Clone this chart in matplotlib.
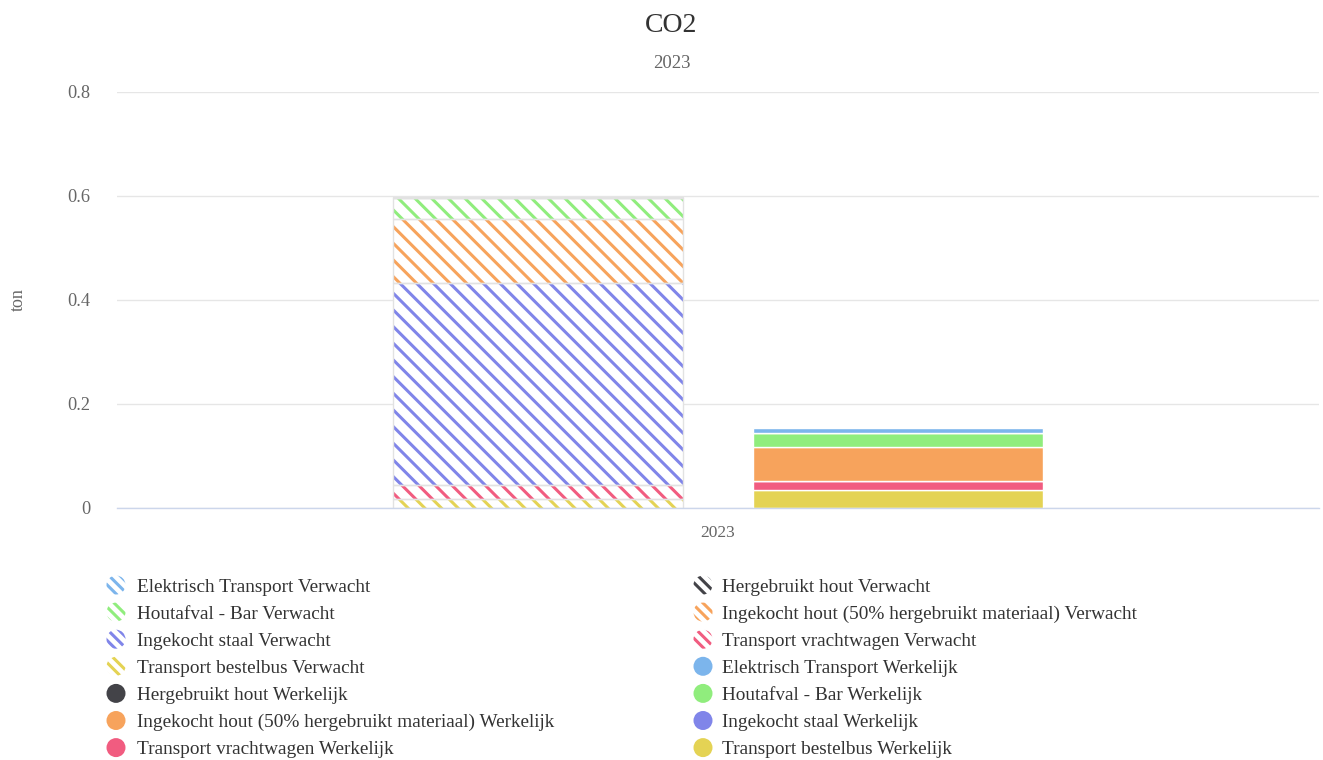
import matplotlib
matplotlib.use('Agg')
import matplotlib.pyplot as plt
from matplotlib.patches import Circle
from matplotlib.transforms import IdentityTransform
import numpy as np

# ---- data ----
categories = ['2023']
series_names = ['Elektrisch Transport', 'Hergebruikt hout', 'Houtafval - Bar',
                'Ingekocht hout (50% hergebruikt materiaal)', 'Ingekocht staal',
                'Transport vrachtwagen', 'Transport bestelbus']
colors = ['#7cb5ec', '#434348', '#90ed7d', '#f7a35c', '#8085e9', '#f15c80', '#e4d354']
verwacht = [0.002, 0.0, 0.040, 0.123, 0.388, 0.028, 0.017]
werkelijk = [0.009, 0.0, 0.027, 0.066, 0.0, 0.017, 0.035]
y_ticks = [0, 0.2, 0.4, 0.6, 0.8]
y_tick_labels = ['0', '0.2', '0.4', '0.6', '0.8']
title = 'CO2'
subtitle = '2023'
y_label = 'ton'

plt.rcParams['font.family'] = ['Liberation Serif', 'DejaVu Serif']
plt.rcParams['hatch.linewidth'] = 2.2

W, H = 1323, 760
fig = plt.figure(figsize=(W / 100, H / 100), dpi=100)
fig.patch.set_facecolor('white')
ax = fig.add_axes([117 / W, 1 - 508 / H, (1319 - 117) / W, (508 - 92) / H])

x = np.arange(len(categories))
off = 0.15
width = 0.241

# Verwacht stack (hatched); stacked so first series is on top
bottom = np.zeros(len(categories))
for name, c, v in reversed(list(zip(series_names, colors, verwacht))):
    ax.bar(x - off, v, width, bottom=bottom, facecolor='white', edgecolor=c,
           linewidth=0, hatch='\\\\', zorder=2)
    ax.bar(x - off, v, width, bottom=bottom, fill=False, edgecolor='#e2e2e2',
           linewidth=1, zorder=3)
    bottom = bottom + np.array([v])

# Werkelijk stack (solid)
bottom = np.zeros(len(categories))
for name, c, v in reversed(list(zip(series_names, colors, werkelijk))):
    ax.bar(x + off, v, width, bottom=bottom, color=c, edgecolor='white',
           linewidth=1, zorder=2)
    bottom = bottom + np.array([v])

ax.set_xlim(-0.5, 0.5)
ax.set_ylim(0, 0.8)
ax.set_yticks(y_ticks)
ax.set_yticklabels(y_tick_labels)
ax.set_xticks(x)
ax.set_xticklabels(categories)
ax.tick_params(axis='y', length=0, pad=19, labelsize=13.2, labelcolor='#666666')
ax.tick_params(axis='x', length=0, pad=12, labelsize=12.5, labelcolor='#666666')
for s in ['top', 'right', 'left']:
    ax.spines[s].set_visible(False)
ax.spines['bottom'].set_color('#ccd6eb')
ax.spines['bottom'].set_linewidth(1)
ax.spines['bottom'].set_zorder(4)
ax.yaxis.grid(True, color='#e6e6e6', linewidth=1)
ax.set_axisbelow(True)

fig.text(18 / W, 1 - 300 / H, y_label, rotation=90, ha='center', va='center',
         color='#666666', fontsize=13)
fig.text(671.5 / W, 1 - 25 / H, title, ha='center', va='center',
         color='#333333', fontsize=20)
fig.text(672 / W, 1 - 64 / H, subtitle, ha='center', va='center',
         color='#666666', fontsize=13.5)

# ---- legend (two columns, row-major) ----
entries = ([(n + ' Verwacht', c, True) for n, c in zip(series_names, colors)] +
           [(n + ' Werkelijk', c, False) for n, c in zip(series_names, colors)])
col_marker_x = [116, 703]
col_text_x = [137, 722]
row_y0 = 585
row_dy = 27.1
for k, (label, c, hatched) in enumerate(entries):
    row, col = divmod(k, 2)
    yy = row_y0 + row * row_dy
    if hatched:
        circ = Circle((col_marker_x[col], H - yy), 9.5, transform=IdentityTransform(),
                      facecolor='white', edgecolor=c, linewidth=0, hatch='\\\\\\')
    else:
        circ = Circle((col_marker_x[col], H - yy), 9.5, transform=IdentityTransform(),
                      facecolor=c, edgecolor=c, linewidth=0)
    fig.add_artist(circ)
    fig.text(col_text_x[col] / W, 1 - (yy + 2) / H, label, ha='left', va='center',
             color='#333333', fontsize=13.9)

fig.savefig('out.png', dpi=100)
